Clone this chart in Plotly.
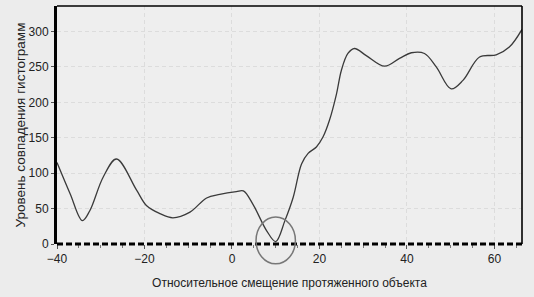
import plotly.graph_objects as go

# Data
offset = [-40, -37, -34.2, -32.5, -29.4, -26.4, -21.8, -19.5, -16.5, -13.5, -9.6, -5.8,
          -2.8, 1.0, 2.6, 4.8, 7.9, 10.0, 12.1, 14.0, 15.9, 17.4, 19.3, 20.8, 22.3,
          23.9, 25.0, 26.5, 28.0, 30.7, 34.9, 38.3, 41.0, 44.0, 46.7, 50.1, 52.8,
          56.6, 60.4, 63.4, 66.3]
level = [115, 71, 33, 47, 95, 120, 76, 54, 43, 37, 45, 65,
         70, 74, 75, 56, 19, 3.5, 33, 66, 113, 128, 137, 151, 175,
         212, 245, 269, 276, 266, 251, 262, 270, 269, 250, 219, 231,
         264, 267, 278, 303]

x_ticks = [-40, -20, 0, 20, 40, 60]
y_ticks = [0, 50, 100, 150, 200, 250, 300]
x_range = [-40, 66.3]
y_range = [0, 336]

# Highlight circle around the minimum (data units)
circle_center = (10.0, 5.0)
circle_rx = 4.5
circle_ry = 33.0

def px(v):
    return (v - x_range[0]) / (x_range[1] - x_range[0])

def py(v):
    return (v - y_range[0]) / (y_range[1] - y_range[0])

fig = go.Figure()
fig.add_trace(go.Scatter(
    x=offset, y=level, mode="lines",
    line=dict(color="#3a3a3a", width=1.3, shape="spline", smoothing=1.0),
    showlegend=False, hoverinfo="skip",
))

axis_font = dict(family="Arial", size=12, color="#222222")

fig.update_layout(
    width=534, height=297,
    margin=dict(l=57, r=12, t=6, b=53),
    paper_bgcolor="#ececec",
    plot_bgcolor="#eeeeee",
    font=axis_font,
    xaxis=dict(
        range=x_range, tickvals=x_ticks, showgrid=True, gridcolor="#dcdcdc",
        griddash="4px,3px", gridwidth=1, zeroline=False, showline=False,
        ticks="outside", ticklen=4, tickcolor="#555",
        minor=dict(dtick=5, ticks="outside", ticklen=3, tickcolor="#777", showgrid=False),
        title=dict(text="Относительное смещение протяженного объекта",
                   font=dict(family="Arial", size=12), standoff=13),
        tickfont=axis_font,
    ),
    yaxis=dict(
        range=y_range, tickvals=y_ticks, showgrid=True, gridcolor="#dcdcdc",
        griddash="4px,3px", gridwidth=1, zeroline=False,
        showline=True, linecolor="black", linewidth=3,
        ticks="outside", ticklen=3, tickcolor="#555",
        title=dict(text="Уровень совпадения гистограмм",
                   font=dict(family="Arial", size=13.5), standoff=0),
        tickfont=axis_font,
    ),
)

shapes = [
    # top and right border
    dict(type="line", xref="paper", yref="paper", x0=0, x1=1, y0=1, y1=1,
         line=dict(color="black", width=1.6)),
    dict(type="line", xref="paper", yref="paper", x0=1, x1=1, y0=0, y1=1,
         line=dict(color="black", width=1.6)),
    # dashed bottom axis
    dict(type="line", xref="paper", yref="paper", x0=0, x1=1, y0=0, y1=0,
         line=dict(color="black", width=3, dash="6px,3px")),
    # circle
    dict(type="circle", xref="paper", yref="paper",
         x0=px(circle_center[0] - circle_rx), x1=px(circle_center[0] + circle_rx),
         y0=py(circle_center[1] - circle_ry), y1=py(circle_center[1] + circle_ry),
         line=dict(color="#777777", width=1.5)),
]
fig.update_layout(shapes=shapes)

fig.write_html("out.html", config={"displayModeBar": False},
               post_script="document.body.style.margin='0';")
